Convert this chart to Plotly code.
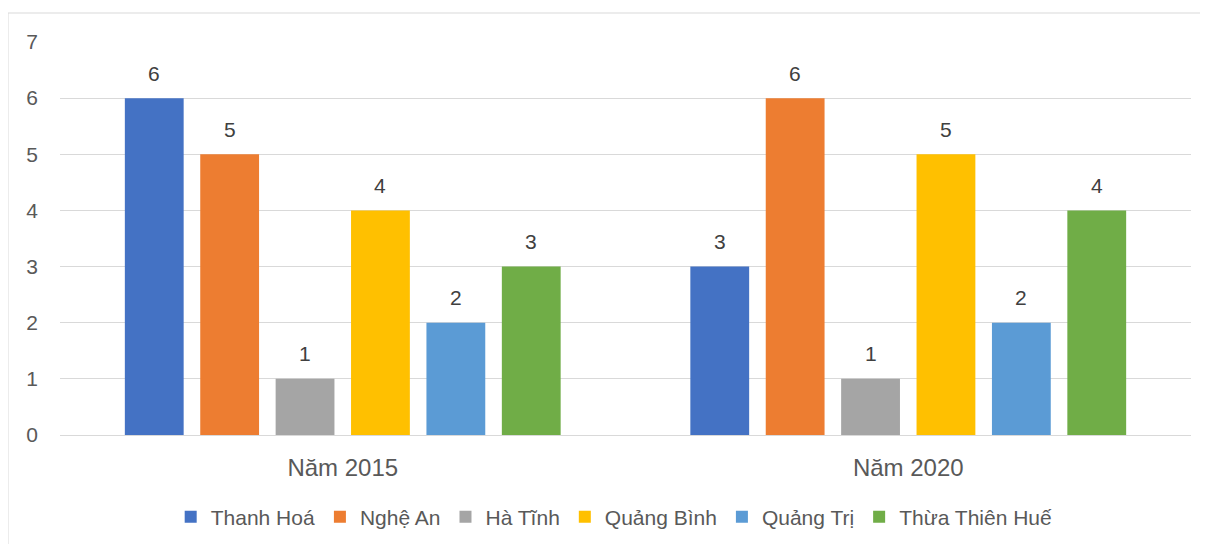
import plotly.graph_objects as go

categories = ["Năm 2015", "Năm 2020"]
provinces = ["Thanh Hoá", "Nghệ An", "Hà Tĩnh", "Quảng Bình", "Quảng Trị", "Thừa Thiên Huế"]
values = {
    "Thanh Hoá": [6, 3],
    "Nghệ An": [5, 6],
    "Hà Tĩnh": [1, 1],
    "Quảng Bình": [4, 5],
    "Quảng Trị": [2, 2],
    "Thừa Thiên Huế": [3, 4],
}
colors = ["#4472C4", "#ED7D31", "#A5A5A5", "#FFC000", "#5B9BD5", "#70AD47"]
y_ticks = [0, 1, 2, 3, 4, 5, 6, 7]

FONT = "Liberation Sans"
TXT = "#595959"
BARGAP = 0.2
BARGROUPGAP = 0.22

fig = go.Figure()
annotations = []
n = len(provinces)
slot = (1 - BARGAP) / n
for i, (p, c) in enumerate(zip(provinces, colors)):
    fig.add_trace(go.Bar(
        x=categories, y=values[p], name=p, marker_color=c, marker_line_width=0,
    ))
    for ci, v in enumerate(values[p]):
        annotations.append(dict(
            x=ci - (1 - BARGAP) / 2 + slot * (i + 0.5), y=v, xref="x", yref="y",
            text=str(v), showarrow=False, yshift=25, yanchor="middle",
            font=dict(family=FONT, size=21, color="#404040"),
        ))

fig.update_layout(
    width=1200, height=536,
    margin=dict(l=52, r=17, t=34, b=109),
    paper_bgcolor="white", plot_bgcolor="white",
    barmode="group", bargap=BARGAP, bargroupgap=BARGROUPGAP,
    font=dict(family=FONT, color=TXT),
    showlegend=True,
    legend=dict(orientation="h", x=0.49, xanchor="center",
                yref="container", y=1 - (517 - 8) / 536, yanchor="middle",
                font=dict(family=FONT, size=21, color=TXT), itemsizing="constant",
                traceorder="normal"),
    xaxis=dict(showgrid=False, showline=False, ticks="", tickfont=dict(family=FONT, size=24, color=TXT),
               ticklabelstandoff=16),
    yaxis=dict(range=[0, 7], tickvals=y_ticks, showgrid=True, gridcolor="#d9d9d9", gridwidth=1,
               zeroline=True, zerolinecolor="#d9d9d9", zerolinewidth=1, showline=False,
               tickfont=dict(family=FONT, size=21, color=TXT), ticklabelstandoff=21),
    annotations=annotations,
    shapes=[dict(type="rect", xref="paper", yref="paper",
                 x0=(8 - 60) / 1131, x1=(1215 - 60) / 1131,
                 y0=(435 - 550) / 393, y1=(435 - 13) / 393,
                 line=dict(color="#d9d9d9", width=1), fillcolor="rgba(0,0,0,0)", layer="below")],
)

fig.write_html("out.html")
